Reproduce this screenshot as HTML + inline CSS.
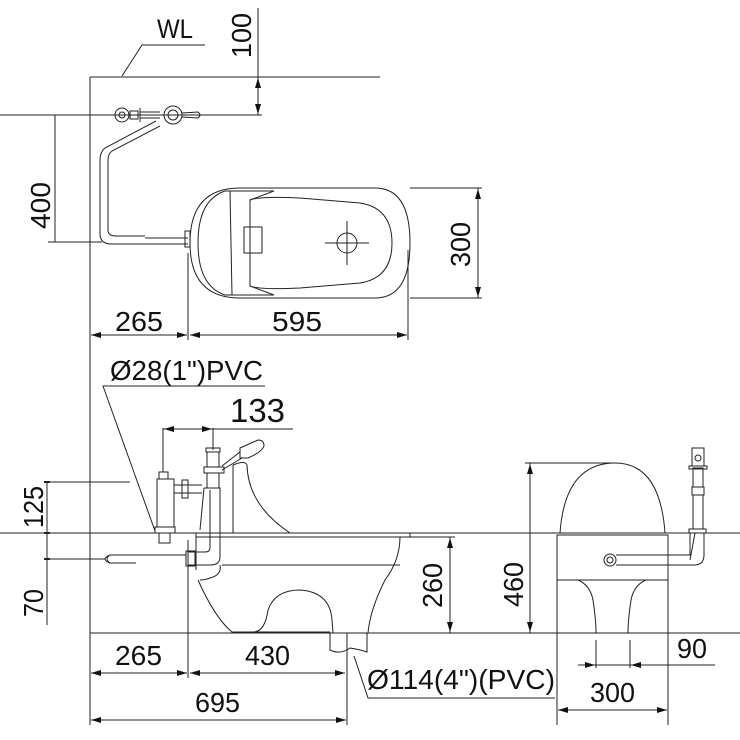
<!DOCTYPE html>
<html><head><meta charset="utf-8"><style>
html,body{margin:0;padding:0;background:#fff;}
svg{display:block;}
text{font-family:"Liberation Sans",Arial,sans-serif;fill:#111;}
</style></head><body>
<svg width="740" height="740" viewBox="0 0 740 740" xmlns="http://www.w3.org/2000/svg">
<defs>
<marker id="a" viewBox="0 0 10 6" refX="10" refY="3" markerWidth="10" markerHeight="6" orient="auto-start-reverse" markerUnits="userSpaceOnUse"><path d="M0,0 L10,3 L0,6z" fill="#111"/></marker>
</defs>
<g stroke="#222" stroke-width="1" fill="none">
<!-- TOP VIEW -->
<line x1="90" y1="77" x2="380" y2="77"/>
<line x1="90" y1="77" x2="90" y2="725"/>
<polyline points="205,45 142,45 122,76"/>
<line x1="258" y1="8" x2="258" y2="115"/>
<line x1="258" y1="95" x2="258" y2="78" marker-end="url(#a)"/>
<line x1="258" y1="98" x2="258" y2="114" marker-end="url(#a)"/>
<line x1="0" y1="115" x2="100" y2="115"/>
<line x1="100" y1="115" x2="262" y2="115"/>
<line x1="48" y1="242" x2="102" y2="242"/>
<line x1="55" y1="115" x2="55" y2="242"/>
<circle cx="122" cy="115" r="7"/><circle cx="122" cy="115" r="3"/>
<rect x="130" y="111" width="8" height="8"/>
<line x1="140" y1="108" x2="140" y2="122"/>
<line x1="140" y1="112" x2="160" y2="112"/><line x1="140" y1="118" x2="160" y2="118"/>
<circle cx="173" cy="115" r="9"/><circle cx="173" cy="115" r="5"/>
<path d="M182,113 L198,112 Q202,115 198,118 L182,117"/>
<path d="M156,121 L105,148 Q100,152 100,160 L100,234 Q100,244 112,244 L188,244"/>
<path d="M160,126 L112,151 Q108,154 108,160 L108,230 Q108,236 116,236 L145,236"/>
<line x1="145" y1="238" x2="188" y2="238"/>
<rect x="185" y="231" width="5" height="16"/>
<path d="M240,188 L375,188 Q410,188 410,243 Q410,298 375,298 L240,298 Q190,298 190,243 Q190,188 240,188z"/>
<path d="M225,191 Q198,200 198,243 Q198,286 225,295 L232,295 L230,191z"/>
<path d="M230,191 L274,191 L250,200 L250,286 L274,295 L230,295"/>
<path d="M250,200 Q260,196 300,198 L360,203 Q392,208 392,243 Q392,278 360,283 L300,288 Q260,290 250,286"/>
<rect x="244" y="227" width="18" height="26"/>
<circle cx="347" cy="243" r="10"/>
<line x1="325" y1="243" x2="369" y2="243"/><line x1="347" y1="221" x2="347" y2="265"/>
<line x1="410" y1="188" x2="482" y2="188"/><line x1="410" y1="298" x2="482" y2="298"/>
<line x1="478" y1="188" x2="478" y2="298"/>
<line x1="478" y1="210" x2="478" y2="189" marker-end="url(#a)"/>
<line x1="478" y1="280" x2="478" y2="297" marker-end="url(#a)"/>
<line x1="188" y1="253" x2="188" y2="340"/><line x1="408" y1="250" x2="408" y2="340"/>
<line x1="110" y1="335" x2="91" y2="335" marker-end="url(#a)"/>
<line x1="110" y1="335" x2="187" y2="335" marker-end="url(#a)"/>
<line x1="300" y1="335" x2="190" y2="335" marker-end="url(#a)"/>
<line x1="300" y1="335" x2="407" y2="335" marker-end="url(#a)"/>

<!-- SIDE VIEW -->
<polyline points="265,386 103,386 155,531"/>
<line x1="163" y1="428" x2="163" y2="465"/><line x1="213" y1="428" x2="213" y2="450"/>
<line x1="293" y1="429" x2="163" y2="429"/>
<line x1="185" y1="429" x2="164" y2="429" marker-end="url(#a)"/>
<line x1="190" y1="429" x2="212" y2="429" marker-end="url(#a)"/>
<line x1="45" y1="482" x2="130" y2="482"/>
<line x1="0" y1="533" x2="740" y2="533"/>
<line x1="45" y1="559" x2="105" y2="559"/>
<line x1="90" y1="633" x2="740" y2="633"/>
<line x1="47" y1="482" x2="47" y2="625"/>
<line x1="44" y1="482" x2="50" y2="482" stroke-width="2"/><line x1="44" y1="533" x2="50" y2="533" stroke-width="2"/><line x1="44" y1="559" x2="50" y2="559" stroke-width="2"/>
<line x1="163" y1="465" x2="163" y2="472"/>
<rect x="159" y="472" width="9" height="7"/>
<path d="M157,479 L174,479 L174,527 L157,527z"/>
<rect x="155" y="527" width="20" height="6"/>
<rect x="159" y="533" width="11" height="10"/>
<line x1="174" y1="485" x2="202" y2="485"/><line x1="174" y1="493" x2="202" y2="493"/>
<rect x="182" y="480" width="6" height="18"/>
<rect x="206" y="448" width="14" height="4"/>
<path d="M207,452 L219,452 L219,467 L207,467z"/>
<rect x="204" y="467" width="20" height="6"/>
<path d="M207,473 L219,473 L219,488 L207,488z"/>
<path d="M222,466 L240,452"/><path d="M222,470 L242,458"/>
<path d="M240,448 L258,440 Q264,440 264,446 Q262,452 248,458 L240,458z"/>
<path d="M204,488 L220,488 L220,557 Q220,565 210,565 L188,565"/>
<path d="M210,490 L210,548 Q210,552 205,552 L188,552"/>
<path d="M204,488 L200,530"/>
<rect x="186" y="551" width="9" height="15"/>
<path d="M186,555 L110,555 Q104,559 110,563 L136,563"/>
<path d="M110,555 Q100,559 110,563"/>
<line x1="233" y1="465" x2="233" y2="533"/>
<path d="M233,465 Q245,460 247,465 Q248,505 290,533"/>
<path d="M196,533 L410,533 L410,537 L196,537z"/>
<path d="M196,537 L196,570"/>
<path d="M222,565 L400,565"/>
<path d="M400,537 Q400,560 385,580 Q370,610 368,633"/>
<path d="M220,565 Q222,575 210,578 Q205,580 200,580"/>
<path d="M198,580 Q215,618 232,632 L330,632"/>
<path d="M253,632 Q265,632 268,610 Q275,590 300,590 Q330,592 332,620 L333,633"/>
<path d="M330,633 L330,650 Q340,655 350,648 Q362,650 367,652 L367,633"/>
<line x1="410" y1="537" x2="455" y2="537"/>
<line x1="450" y1="537" x2="450" y2="633"/>
<line x1="450" y1="560" x2="450" y2="538" marker-end="url(#a)"/>
<line x1="450" y1="610" x2="450" y2="632" marker-end="url(#a)"/>
<line x1="188" y1="540" x2="188" y2="678"/>
<line x1="347" y1="633" x2="347" y2="725"/>
<line x1="110" y1="673" x2="91" y2="673" marker-end="url(#a)"/>
<line x1="110" y1="673" x2="187" y2="673" marker-end="url(#a)"/>
<line x1="300" y1="673" x2="190" y2="673" marker-end="url(#a)"/>
<line x1="300" y1="673" x2="345" y2="673" marker-end="url(#a)"/>
<line x1="200" y1="720" x2="91" y2="720" marker-end="url(#a)"/>
<line x1="200" y1="720" x2="346" y2="720" marker-end="url(#a)"/>
<polyline points="555,698 368,698 354,656"/>

<!-- FRONT VIEW -->
<line x1="525" y1="463" x2="615" y2="463"/>
<line x1="530" y1="463" x2="530" y2="633"/>
<line x1="530" y1="490" x2="530" y2="464" marker-end="url(#a)"/>
<line x1="530" y1="610" x2="530" y2="632" marker-end="url(#a)"/>
<path d="M560,533 Q565,463 615,463 Q660,463 665,533"/>
<rect x="557" y="535" width="111" height="45"/>
<path d="M578,580 Q590,585 593,600 Q596,620 596,633"/>
<path d="M646,580 Q634,585 631,600 Q628,620 628,633"/>
<circle cx="610" cy="560" r="6"/><circle cx="610" cy="560" r="3"/>
<path d="M616,555 L690,555 L690,533"/>
<path d="M616,565 L694,565 Q704,565 704,555 L704,533"/>
<line x1="690" y1="560" x2="695" y2="533"/>
<rect x="689" y="529" width="17" height="4"/>
<rect x="693" y="495" width="10" height="34"/>
<rect x="692" y="487" width="12" height="8"/>
<path d="M693,468 L703,468 L703,487 L693,487z"/>
<rect x="689" y="466" width="18" height="3"/>
<path d="M692,466 L692,448 L704,448 L704,466"/>
<circle cx="698" cy="458" r="3"/>
<line x1="557" y1="580" x2="557" y2="725"/><line x1="668" y1="580" x2="668" y2="725"/>
<line x1="596" y1="640" x2="596" y2="668"/><line x1="630" y1="640" x2="630" y2="668"/>
<line x1="578" y1="665" x2="715" y2="665"/>
<line x1="585" y1="665" x2="595" y2="665" marker-end="url(#a)"/>
<line x1="645" y1="665" x2="631" y2="665" marker-end="url(#a)"/>
<line x1="610" y1="710" x2="558" y2="710" marker-end="url(#a)"/>
<line x1="610" y1="710" x2="667" y2="710" marker-end="url(#a)"/>
</g>
<g font-size="28">
<text x="157" y="38" font-size="27" fill="#666" textLength="36" lengthAdjust="spacingAndGlyphs">WL</text>
<text transform="translate(251,58) rotate(-90)" textLength="45" lengthAdjust="spacingAndGlyphs">100</text>
<text transform="translate(50,229) rotate(-90)" textLength="47" lengthAdjust="spacingAndGlyphs">400</text>
<text transform="translate(470,267) rotate(-90)" textLength="45" lengthAdjust="spacingAndGlyphs">300</text>
<text x="115" y="331" textLength="48" lengthAdjust="spacingAndGlyphs">265</text>
<text x="272" y="331" textLength="50" lengthAdjust="spacingAndGlyphs">595</text>
<text x="110" y="380" textLength="153" lengthAdjust="spacingAndGlyphs">Ø28(1")PVC</text>
<text x="230" y="422" font-size="33" textLength="55" lengthAdjust="spacingAndGlyphs">133</text>
<text transform="translate(43,528) rotate(-90)" textLength="42" lengthAdjust="spacingAndGlyphs">125</text>
<text transform="translate(43,617) rotate(-90)" textLength="28" lengthAdjust="spacingAndGlyphs">70</text>
<text transform="translate(442,608) rotate(-90)" textLength="45" lengthAdjust="spacingAndGlyphs">260</text>
<text transform="translate(523,607) rotate(-90)" textLength="45" lengthAdjust="spacingAndGlyphs">460</text>
<text x="115" y="665" textLength="47" lengthAdjust="spacingAndGlyphs">265</text>
<text x="245" y="665" textLength="45" lengthAdjust="spacingAndGlyphs">430</text>
<text x="195" y="712" textLength="45" lengthAdjust="spacingAndGlyphs">695</text>
<text x="367" y="689" textLength="188" lengthAdjust="spacingAndGlyphs">Ø114(4")(PVC)</text>
<text x="677" y="658" textLength="30" lengthAdjust="spacingAndGlyphs">90</text>
<text x="590" y="702" textLength="45" lengthAdjust="spacingAndGlyphs">300</text>
</g>
</svg>
</body></html>
